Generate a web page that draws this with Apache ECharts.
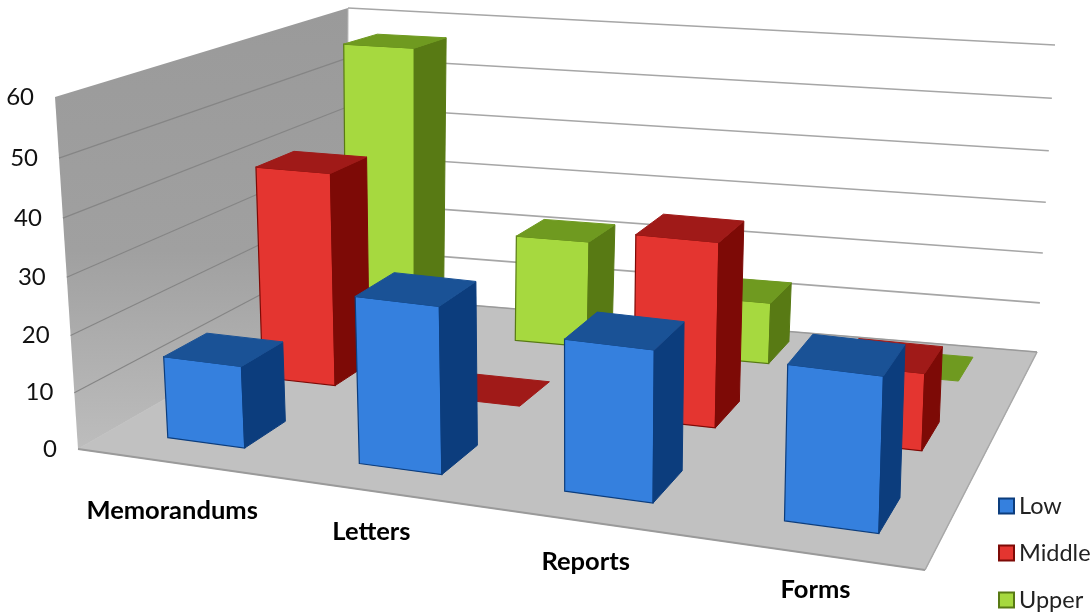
<!DOCTYPE html>
<html><head><meta charset="utf-8">
<script src="https://cdn.jsdelivr.net/npm/echarts@6/dist/echarts.min.js"></script>
<style>html,body{margin:0;padding:0;background:#fff}#c{width:1092px;height:614px}</style>
</head><body><div id="c"></div>
<script>
var categories = ['Memorandums','Letters','Reports','Forms'];
var low = [14.5, 29, 26, 26.3];
var middle = [39.5, 0, 33.5, 14];
var upper = [56, 21, 12, 0];
var ticks = [0,10,20,30,40,50,60];
var MAXV = 60;

// Chart-box corners in the picture: the floor plane, and the vertical extent of the 60 gridline above each corner
var FL=[78,449],FR=[925,570],BR=[1037,352],BL=[347,295];
var V_FL=[-23,-352],V_FR=[12,-378],V_BR=[18,-307],V_BL=[1,-287];
function homography(p00,p10,p11,p01){
  var dx1=p10[0]-p11[0],dx2=p01[0]-p11[0],sx=p00[0]-p10[0]+p11[0]-p01[0];
  var dy1=p10[1]-p11[1],dy2=p01[1]-p11[1],sy=p00[1]-p10[1]+p11[1]-p01[1];
  var det=dx1*dy2-dx2*dy1;
  var g=(sx*dy2-dx2*sy)/det,h=(dx1*sy-sx*dy1)/det;
  var a=p10[0]-p00[0]+g*p10[0],b=p01[0]-p00[0]+h*p01[0],c=p00[0];
  var d=p10[1]-p00[1]+g*p10[1],e=p01[1]-p00[1]+h*p01[1],f=p00[1];
  return function(x,z){var w=g*x+h*z+1;return [(a*x+b*z+c)/w,(d*x+e*z+f)/w];};
}
var floorH=homography(FL,FR,BR,BL);
var HEIGHT_K=1.05;
function P(x,val,z){
  var t=val/MAXV,s=t/(t+(1-t)*HEIGHT_K),p=floorH(x,z);
  var out=[0,0];
  for(var k=0;k<2;k++){
    var v=(1-x)*(1-z)*V_FL[k]+x*(1-z)*V_FR[k]+x*z*V_BR[k]+(1-x)*z*V_BL[k];
    out[k]=p[k]+v*s;
  }
  return out;
}
var FONT='Lato, Carlito, "Open Sans", sans-serif';
var HALF_U=0.205,HALF_Z=0.07,ROW_SKEW=0.006;
var LABEL_DY=[10,2,2,-2];
function slotX(u){return 0.136+0.272*u-0.007*u*u;}
function slotZ(r){return 0.17+0.335*r+0.007*r*r;}

function poly(pts,fill,stroke,lw){
  return {type:'polygon',shape:{points:pts},style:{fill:fill,stroke:stroke||fill,lineWidth:lw==null?1:lw}};
}
function seg(p,q,color,lw){
  return {type:'line',shape:{x1:p[0],y1:p[1],x2:q[0],y2:q[1]},style:{stroke:color,lineWidth:lw||1.2,fill:null}};
}
function barSeries(name,values,rowIdx,cols,z){
  return {
    type:'custom',name:name,coordinateSystem:'none',z:z,silent:true,
    itemStyle:{color:cols.front,borderColor:cols.side,borderWidth:2},
    data:values.map(function(v,i){return [i,v];}),
    renderItem:function(params,api){
      var i=api.value(0),v=api.value(1);
      var zc=slotZ(rowIdx),skew=ROW_SKEW*(1-rowIdx);
      var x0=slotX(i-HALF_U)+skew,x1=slotX(i+HALF_U)+skew,z0=zc-HALF_Z,z1=zc+HALF_Z;
      var A=P(x0,0,z0),B=P(x1,0,z0),C=P(x1,0,z1),
          a=P(x0,v,z0),b=P(x1,v,z0),c=P(x1,v,z1),d=P(x0,v,z1);
      var ch=[];
      if(v>0){
        ch.push(poly([A,B,b,a],cols.front,cols.side,1.2));
        ch.push(poly([B,C,c,b],cols.side,cols.side,1));
      }
      ch.push(poly([a,b,c,d],cols.top,cols.top,1));
      return {type:'group',children:ch};
    }
  };
}
var frame={
  type:'custom',name:'frame',coordinateSystem:'none',z:1,silent:true,
  data:[[0]],
  renderItem:function(){
    var ch=[];
    var a0=P(0,0,0),a1=P(0,0,1),b1=P(1,0,1),b0=P(1,0,0);
    var t0=P(0,MAXV,0),t1=P(0,MAXV,1);
    ch.push({type:'polygon',shape:{points:[a0,a1,t1,t0]},style:{
      fill:new echarts.graphic.LinearGradient(0,0,0,1,[{offset:0,color:'#9a9a9a'},{offset:0.55,color:'#a0a0a0'},{offset:1,color:'#bdbdbd'}])}});
    ch.push(poly([a0,b0,b1,a1],'#c1c1c1','#c1c1c1',1));
    ch.push(seg(a0,b0,'#9a9a9a',2));
    ch.push(seg(b0,b1,'#a8a8a8',1.5));
    ch.push(seg(t1,a1,'#b5b5b5',1));
    ticks.forEach(function(t){
      if(t>0){
        if(t<MAXV) ch.push(seg(P(0,t,0),P(0,t,1),'#858585',1.2));
        ch.push(seg(P(0,t,1),P(1,t,1),'#a6a6a6',1.6));
      }
      var p=P(0,t,0);
      ch.push({type:'text',style:{text:String(t),x:p[0]-21,y:p[1],align:'right',verticalAlign:'middle',
        font:'24px '+FONT,fill:'#111'}});
    });
    ch.push(seg(a1,b1,'#9a9a9a',1.5));
    categories.forEach(function(n,i){
      var p=P(slotX(i),0,0);
      ch.push({type:'text',style:{text:n,x:p[0]+2+i*2,y:p[1]+39+LABEL_DY[i],align:'center',verticalAlign:'middle',
        font:'bold 25.5px '+FONT,fill:'#000'}});
    });
    return {type:'group',children:ch};
  }
};
var chart=echarts.init(document.getElementById('c'),null,{renderer:'canvas'});
var colors={
  low:{front:'#3580de',side:'#0c3d7d',top:'#1a5296'},
  middle:{front:'#e43530',side:'#7d0a06',top:'#a01a18'},
  upper:{front:'#a6d93f',side:'#587a14',top:'#6f9a20'}
};
chart.setOption({
  animation:false,
  backgroundColor:'#fff',
  legend:{
    show:true,orient:'vertical',left:998,top:494,padding:0,height:120,itemWidth:15,itemHeight:15,itemGap:23,icon:'rect',
    selectedMode:false,
    textStyle:{fontFamily:'Lato',fontSize:23.5,color:'#222'},
    data:['Low','Middle','Upper']
  },
  series:[
    frame,
    barSeries('Low',low,0,colors.low,4),
    barSeries('Middle',middle,1,colors.middle,3),
    barSeries('Upper',upper,2,colors.upper,2)
  ]
});
</script></body></html>
